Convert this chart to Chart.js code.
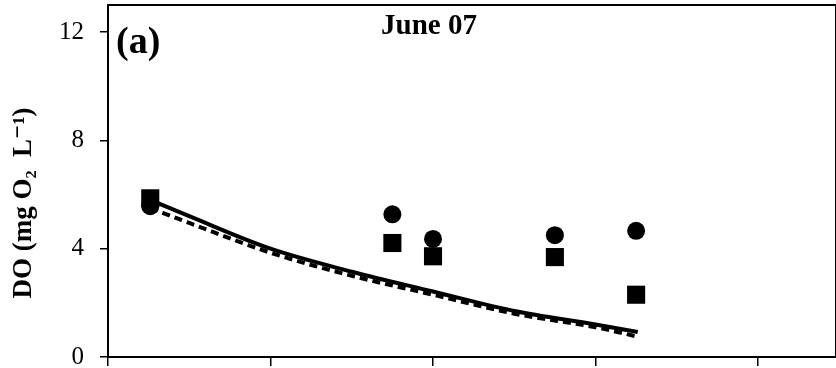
<!DOCTYPE html>
<html>
<head>
<meta charset="utf-8">
<title>DO June 07</title>
<script src="https://cdn.jsdelivr.net/npm/chart.js@4/dist/chart.umd.min.js"></script>
<style>
  body { margin: 0; background: #fff; }
  #wrap { width: 836px; height: 368px; }
</style>
</head>
<body>
<div id="wrap"><canvas id="doChart" width="836" height="368"></canvas></div>
<script>
// sampling positions and measured DO
const xSample = [0.26, 1.75, 2.0, 2.75, 3.25];
const doCircle = [5.57, 5.27, 4.36, 4.5, 4.66];
const doSquare = [5.86, 4.21, 3.72, 3.69, 2.3];

// model curves
const xModel = [0.26, 0.5, 1.0, 1.5, 2.0, 2.5, 3.0, 3.26];
const modelSolid = [5.8, 5.2, 4.0, 3.15, 2.42, 1.7, 1.2, 0.92];
const modelDashed = [5.5, 4.95, 3.85, 3.0, 2.3, 1.6, 1.1, 0.75];

const yTicks = [0, 4, 8, 12];
const xTicks = [0, 1, 2, 3, 4];

const serif = "'Liberation Serif', 'DejaVu Serif', serif";

function toPoints(xs, ys) {
  return xs.map((x, i) => ({ x: x, y: ys[i] }));
}

// frame + panel labels
const panelText = {
  id: 'panelText',
  afterDraw(chart) {
    const ctx = chart.ctx;
    const a = chart.chartArea;
    ctx.save();
    ctx.strokeStyle = '#000';
    ctx.lineWidth = 2;
    ctx.beginPath();
    ctx.moveTo(a.left, a.top);
    ctx.lineTo(a.right, a.top);
    ctx.lineTo(a.right, a.bottom);
    ctx.stroke();

    ctx.fillStyle = '#000';
    ctx.textBaseline = 'alphabetic';
    ctx.textAlign = 'left';
    ctx.font = 'bold 38px ' + serif;
    ctx.fillText('(a)', 116, 53);
    ctx.font = 'bold 29px ' + serif;
    ctx.fillText('June 07', 381, 34);

    ctx.translate(24, 203);
    ctx.rotate(-Math.PI / 2);
    ctx.textAlign = 'center';
    ctx.textBaseline = 'middle';
    ctx.font = 'bold 27px ' + serif;
    ctx.fillText('DO (mg O\u2082  L\u207B\u00B9)', 0, 0);
    ctx.restore();
  }
};

const ctx = document.getElementById('doChart').getContext('2d');
const doChart = new Chart(ctx, {
  type: 'scatter',
  data: {
    datasets: [
      {
        label: 'Model',
        data: toPoints(xModel, modelSolid),
        showLine: true,
        borderColor: '#000',
        borderWidth: 4,
        pointRadius: 0,
        cubicInterpolationMode: 'monotone'
      },
      {
        label: 'Model (dashed)',
        data: toPoints(xModel, modelDashed),
        showLine: true,
        borderColor: '#000',
        borderWidth: 4,
        borderDash: [8, 5],
        pointRadius: 0,
        cubicInterpolationMode: 'monotone'
      },
      {
        label: 'Circles',
        data: toPoints(xSample, doCircle),
        pointStyle: 'circle',
        pointRadius: 9,
        backgroundColor: '#000',
        borderColor: '#000',
        borderWidth: 0
      },
      {
        label: 'Squares',
        data: toPoints(xSample, doSquare),
        pointStyle: 'rect',
        pointRadius: 12.8,
        backgroundColor: '#000',
        borderColor: '#000',
        borderWidth: 0
      }
    ]
  },
  options: {
    responsive: false,
    animation: false,
    layout: {
      autoPadding: false,
      padding: { top: 5, right: 0, left: 0, bottom: 0 }
    },
    plugins: {
      legend: { display: false },
      tooltip: { enabled: false }
    },
    scales: {
      x: {
        type: 'linear',
        min: 0,
        max: 4.48,
        afterBuildTicks: (scale) => {
          scale.ticks = xTicks.map(v => ({ value: v }));
        },
        afterFit: (scale) => {
          scale.height = 11;
          scale.paddingLeft = 0;
          scale.paddingRight = 0;
        },
        ticks: { display: false },
        grid: {
          drawOnChartArea: false,
          drawTicks: true,
          tickLength: 9,
          color: '#000',
          lineWidth: 1.5
        },
        border: { display: true, color: '#000', width: 2 }
      },
      y: {
        min: 0,
        max: 13,
        afterBuildTicks: (scale) => {
          scale.ticks = yTicks.map(v => ({ value: v }));
        },
        afterFit: (scale) => {
          scale.width = 108;
          scale.paddingTop = 0;
          scale.paddingBottom = 0;
        },
        ticks: {
          color: '#000',
          padding: 16,
          font: { family: serif, size: 25 }
        },
        grid: {
          drawOnChartArea: false,
          drawTicks: true,
          tickLength: 8,
          color: '#000',
          lineWidth: 1.5
        },
        border: { display: true, color: '#000', width: 2 }
      }
    }
  },
  plugins: [panelText]
});
</script>
</body>
</html>
